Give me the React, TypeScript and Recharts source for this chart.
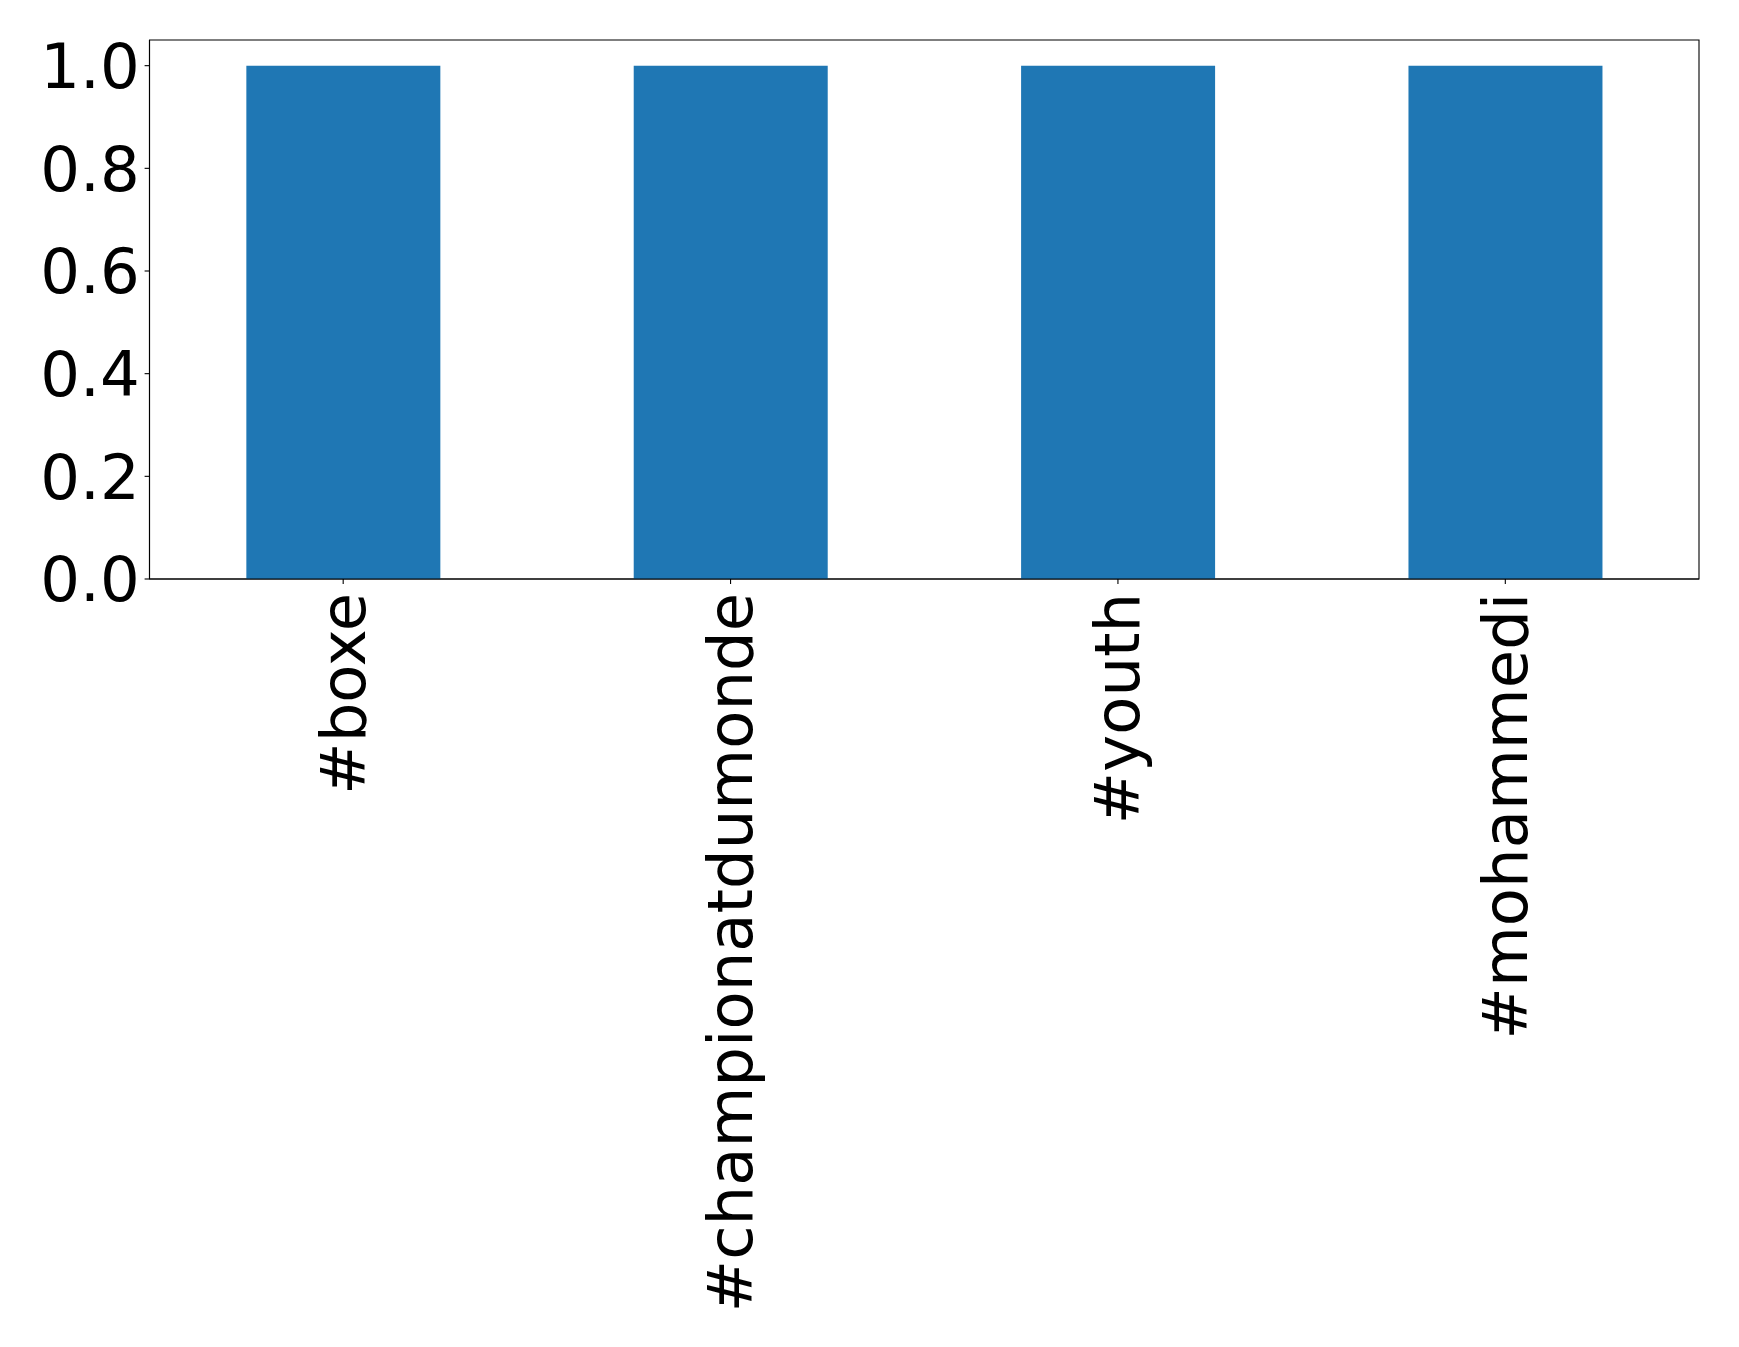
import { BarChart, Bar, XAxis, YAxis, ReferenceArea } from "recharts";

const hashtags = ["#boxe", "#championatdumonde", "#youth", "#mohammedi"];
const counts = [1, 1, 1, 1];
const yTicks = [0, 0.2, 0.4, 0.6, 0.8, 1.0];

const data = hashtags.map((tag, i) => ({ tag, count: counts[i] }));

const FONT = "DejaVu Sans, sans-serif";
const line = { stroke: "#000", strokeWidth: 1.1 };

// rotated hashtag label, reading bottom-to-top, ending just under the axis
function HashtagTick({ x, y, payload }: any) {
  return (
    <text
      x={x}
      y={y + 4}
      transform={`rotate(-90, ${x}, ${y + 4})`}
      textAnchor="end"
      dominantBaseline="central"
      fontFamily={FONT}
      fontSize={62.5}
      fill="#000"
    >
      {payload.value}
    </text>
  );
}

export default function App() {
  return (
    <div style={{ position: "absolute", left: 0, top: 0, background: "#fff" }}>
      <BarChart
        width={1739}
        height={1347}
        data={data}
        margin={{ top: 40, right: 40, bottom: 0, left: 0 }}
        barCategoryGap="25%"
      >
        <XAxis
          dataKey="tag"
          interval={0}
          height={768}
          tickSize={4.9}
          tickMargin={4.9}
          axisLine={line}
          tickLine={line}
          tick={<HashtagTick />}
        />
        <YAxis
          width={149.5}
          domain={[0, 1.05]}
          ticks={yTicks}
          tickFormatter={(v: number) => v.toFixed(1)}
          tickSize={4.9}
          tickMargin={4.9}
          axisLine={line}
          tickLine={line}
          tick={{ fill: "#000", fontFamily: FONT, fontSize: 62.5 }}
        />
        <Bar dataKey="count" fill="#1f77b4" isAnimationActive={false} />
        {/* plot frame (top and right spines) */}
        <ReferenceArea
          y1={0}
          y2={1.05}
          fill="none"
          fillOpacity={0}
          stroke="#000"
          strokeWidth={1.1}
        />
      </BarChart>
    </div>
  );
}
